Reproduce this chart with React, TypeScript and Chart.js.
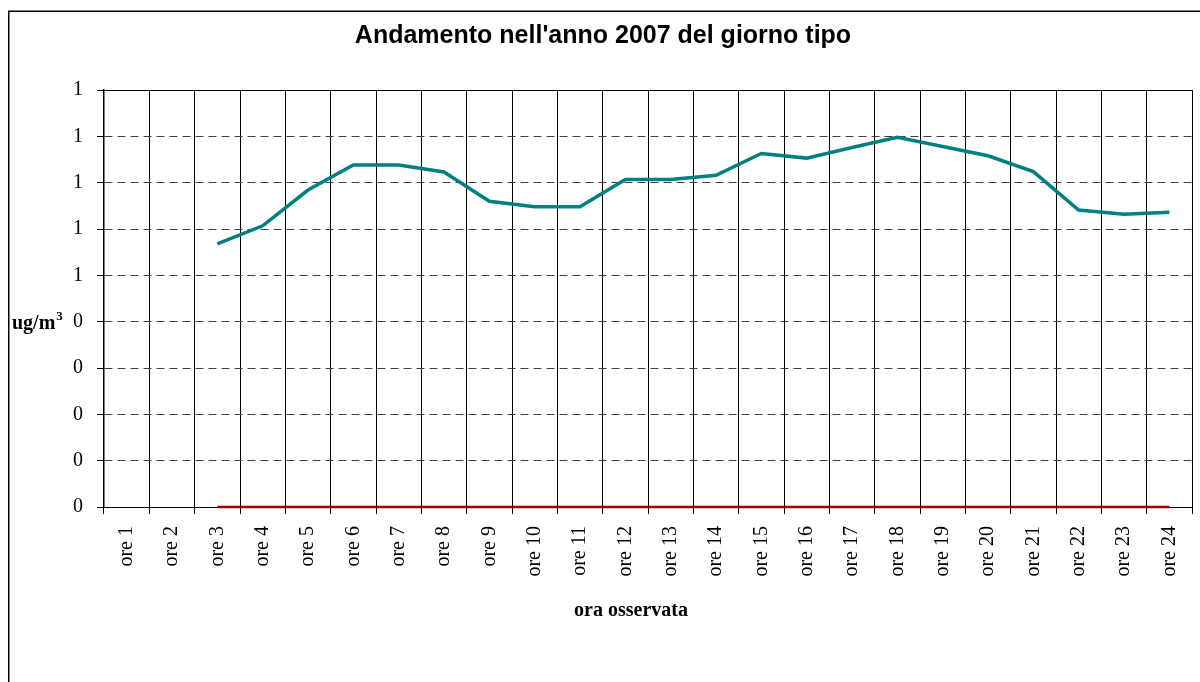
import React, { useEffect, useRef } from "react";
import { Chart, registerables } from "chart.js";

Chart.register(...registerables);

const CATEGORIES = [
  "ore 1", "ore 2", "ore 3", "ore 4", "ore 5", "ore 6", "ore 7", "ore 8",
  "ore 9", "ore 10", "ore 11", "ore 12", "ore 13", "ore 14", "ore 15", "ore 16",
  "ore 17", "ore 18", "ore 19", "ore 20", "ore 21", "ore 22", "ore 23", "ore 24",
];

const SERIES_MAIN: (number | null)[] = [
  null, null, 0.568, 0.607, 0.684, 0.738, 0.738, 0.723,
  0.66, 0.648, 0.648, 0.707, 0.707, 0.716, 0.763, 0.753,
  0.776, 0.798, 0.778, 0.758, 0.724, 0.641, 0.632, 0.636,
];

const SERIES_ZERO: (number | null)[] = [
  null, null, 0, 0, 0, 0, 0, 0,
  0, 0, 0, 0, 0, 0, 0, 0,
  0, 0, 0, 0, 0, 0, 0, 0,
];

const Y_TICK_LABELS = ["0", "0", "0", "0", "0", "1", "1", "1", "1", "1"];
const Y_MIN = 0;
const Y_MAX = 0.9;
const Y_STEP = 0.1;

const TITLE = "Andamento nell'anno 2007 del giorno tipo";
const X_TITLE = "ora osservata";
const Y_TITLE = "ug/m";
const Y_TITLE_SUP = "3";

const decorPlugin = {
  id: "decor",
  afterDraw(chart: any) {
    const ctx = chart.ctx;
    const area = chart.chartArea;
    ctx.save();
    // outer frame
    ctx.strokeStyle = "#000";
    ctx.lineWidth = 1.5;
    ctx.strokeRect(8.75, 11.25, 1400, 900);
    // plot top border
    ctx.lineWidth = 1;
    ctx.beginPath();
    ctx.moveTo(area.left, Math.round(area.top) + 0.5);
    ctx.lineTo(area.right, Math.round(area.top) + 0.5);
    ctx.stroke();
    // title
    ctx.fillStyle = "#000";
    ctx.textAlign = "center";
    ctx.textBaseline = "alphabetic";
    ctx.font = "bold 25px 'Liberation Sans', Arial, sans-serif";
    ctx.fillText(TITLE, 603, 43);
    // x title
    ctx.font = "bold 20px 'Liberation Serif', 'Times New Roman', serif";
    ctx.fillText(X_TITLE, 631, 616);
    // y title
    ctx.textAlign = "left";
    ctx.fillText(Y_TITLE, 12, 329);
    const w = ctx.measureText(Y_TITLE).width;
    ctx.font = "bold 13px 'Liberation Serif', 'Times New Roman', serif";
    ctx.fillText(Y_TITLE_SUP, 12 + w + 1, 320);
    ctx.restore();
  },
};

export default function App() {
  const ref = useRef<HTMLCanvasElement | null>(null);

  useEffect(() => {
    if (!ref.current) return;
    const chart = new Chart(ref.current, {
      type: "line",
      data: {
        labels: CATEGORIES,
        datasets: [
          {
            label: "giorno tipo",
            data: SERIES_MAIN,
            borderColor: "#008080",
            backgroundColor: "#008080",
            borderWidth: 3.5,
            pointRadius: 0,
            tension: 0,
            clip: false,
          },
          {
            label: "zero",
            data: SERIES_ZERO,
            borderColor: "#990000",
            backgroundColor: "#990000",
            borderWidth: 2.5,
            pointRadius: 0,
            tension: 0,
            clip: false,
          },
        ],
      },
      options: {
        responsive: false,
        animation: false,
        events: [],
        layout: { padding: { left: 0, right: 8, top: 90, bottom: 0 } },
        plugins: {
          legend: { display: false },
          title: { display: false },
          tooltip: { enabled: false },
        },
        scales: {
          x: {
            type: "category",
            offset: true,
            afterFit: (s: any) => {
              s.height = 175;
              s.paddingLeft = 0;
              s.paddingRight = 0;
            },
            grid: {
              offset: true,
              color: "#000",
              lineWidth: 1,
              drawTicks: true,
              tickLength: 7,
            },
            border: { color: "#000", width: 1 },
            ticks: {
              color: "#000",
              maxRotation: 90,
              minRotation: 90,
              autoSkip: false,
              padding: 12,
              font: { family: "'Liberation Serif', 'Times New Roman', serif", size: 20 },
            },
          },
          y: {
            min: Y_MIN,
            max: Y_MAX,
            afterFit: (s: any) => {
              s.width = 104;
              s.paddingTop = 0;
              s.paddingBottom = 0;
            },
            grid: {
              color: "#404040",
              lineWidth: 1,
              drawTicks: true,
              tickLength: 7,
              tickColor: "#000",
            },
            border: { color: "#000", width: 1.5, dash: [8, 5] },
            ticks: {
              stepSize: Y_STEP,
              color: "#000",
              padding: 14,
              font: { family: "'Liberation Serif', 'Times New Roman', serif", size: 20 },
              callback: (_v: any, i: number) => Y_TICK_LABELS[i] ?? "",
            },
          },
        },
      },
      plugins: [decorPlugin],
    });
    return () => chart.destroy();
  }, []);

  return (
    <div style={{ position: "absolute", left: 0, top: 0, width: 1200, height: 682, background: "#fff" }}>
      <canvas ref={ref} width={1200} height={682} style={{ display: "block" }} />
    </div>
  );
}
